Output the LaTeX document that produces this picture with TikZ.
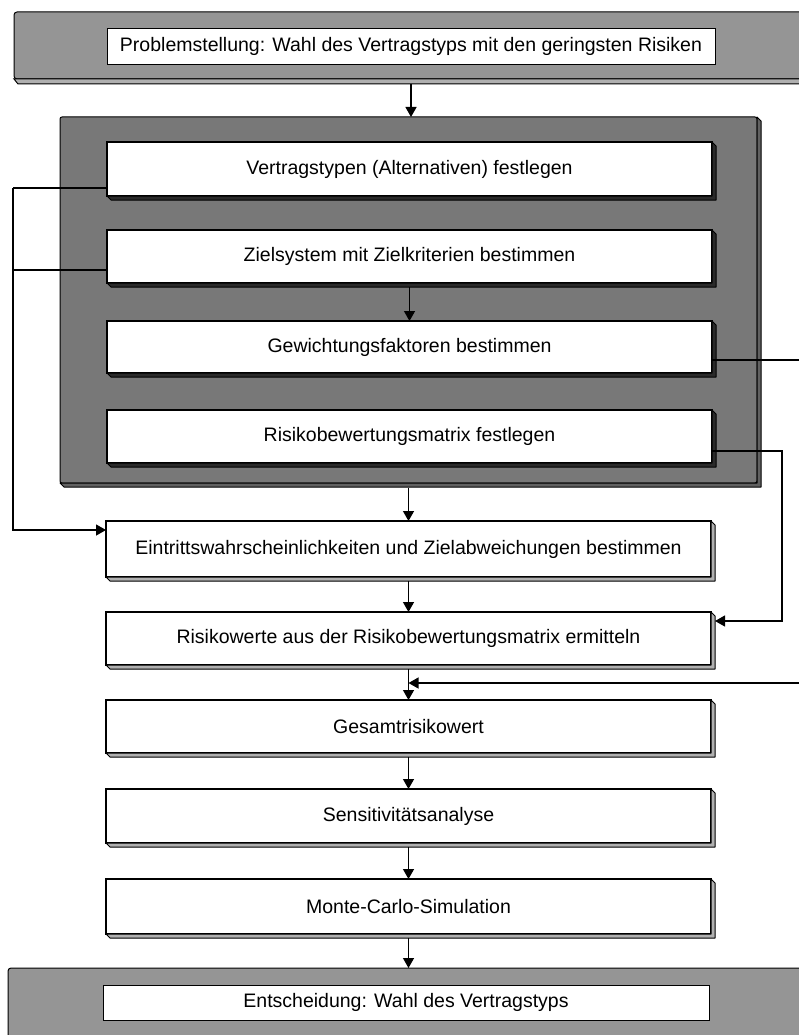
\documentclass[tikz,border=0pt]{standalone}
\usepackage{fontspec}
\setmainfont{Liberation Sans}
\usetikzlibrary{arrows.meta}
\definecolor{bannergray}{HTML}{959595}
\definecolor{groupgray}{HTML}{787878}
\definecolor{lightstrip}{HTML}{B0B0B0}
\definecolor{darkstrip}{HTML}{2A2A2A}
\newcommand\extrude[3]{\filldraw[fill=#2, line width=#3, line join=round] (#1.north east) -- ([shift={(4,4)}]#1.north east) -- ([shift={(4,4)}]#1.south east) -- ([shift={(4,4)}]#1.south west) -- (#1.south west) -- (#1.south east) -- cycle;}
\begin{document}
\begin{tikzpicture}[x=1pt,y=-1pt,
  box/.style={draw=black, line width=1.1pt, fill=white, minimum width=605pt, inner sep=0pt, outer sep=0pt, font=\fontsize{19.5}{22}\selectfont},
  flatbox/.style={draw=black, line width=0.8pt, fill=white, inner sep=0pt, outer sep=0pt, font=\fontsize{19.5}{22}\selectfont},
  bannerbg/.style={draw=black, line width=1pt, fill=bannergray, rounded corners=3pt, inner sep=0pt, outer sep=0pt},
  groupbg/.style={draw=black, line width=1pt, fill=groupgray, rounded corners=2pt, inner sep=0pt, outer sep=0pt},
  arr/.style={line width=1.3pt, -{Triangle[length=10pt,width=11pt]}},
  conn/.style={line width=1.3pt}]
\clip (0,0) rectangle (799,1035);
\fill[white] (0,0) rectangle (799,1035);
% top banner
\node[bannerbg, anchor=north west, minimum width=816pt, minimum height=67pt] (tb) at (14,12) {};
\filldraw[fill=lightstrip, line width=1pt] (tb.south west) -- ([shift={(4,5)}]tb.south west) -- ([shift={(4,5)}]tb.south east) -- (tb.south east) -- cycle;
\node[flatbox, minimum width=608pt, minimum height=36pt] (p) at (411,46) {Problemstellung: Wahl des Vertragstyps mit den geringsten Risiken};
% group
\node[groupbg, anchor=north west, minimum width=697pt, minimum height=366pt] (grp) at (60,117) {};
\extrude{grp}{black!62}{1pt}
\node[box, minimum height=54pt] (v) at (409.5,169) {Vertragstypen (Alternativen) festlegen};
\node[box, minimum height=53pt] (z) at (409.5,256.5) {Zielsystem mit Zielkriterien bestimmen};
\node[box, minimum height=52pt] (w) at (409.5,347) {Gewichtungsfaktoren bestimmen};
\node[box, minimum height=53pt] (r) at (409.5,436.5) {Risikobewertungsmatrix festlegen};
\foreach \n in {v,z,w,r} {\extrude{\n}{darkstrip}{1pt}}
% lower boxes
\node[box, minimum height=56pt] (e) at (408.5,549) {Eintrittswahrscheinlichkeiten und Zielabweichungen bestimmen};
\node[box, minimum height=53pt] (rw) at (408.5,638.5) {Risikowerte aus der Risikobewertungsmatrix ermitteln};
\node[box, minimum height=53pt] (g) at (408.5,726.5) {Gesamtrisikowert};
\node[box, minimum height=54pt] (s) at (408.5,816) {Sensitivitätsanalyse};
\node[box, minimum height=55pt] (m) at (408.5,906.5) {Monte-Carlo-Simulation};
\foreach \n in {e,rw,g,s,m} {\extrude{\n}{lightstrip}{1pt}}
% bottom banner
\node[bannerbg, anchor=north west, minimum width=830pt, minimum height=100pt] (bb) at (8,968) {};
\node[flatbox, minimum width=606pt, minimum height=35pt] (d) at (406,1002.5) {Entscheidung: Wahl des Vertragstyps};
% vertical arrows
\draw[arr] ([yshift=-5pt]p.south |- tb.south) -- (p.south |- grp.north);
\draw[arr] ([yshift=-4pt]z.south) -- (w.north);
\draw[arr] ([yshift=-5pt]e.north |- grp.south) -- (e.north);
\draw[arr] ([yshift=-4pt]e.south) -- (rw.north);
\draw[arr] ([yshift=-4pt]rw.south) -- (g.north);
\draw[arr] ([yshift=-4pt]g.south) -- (s.north);
\draw[arr] ([yshift=-4pt]s.south) -- (m.north);
\draw[arr] ([yshift=-4pt]m.south) -- (m.south |- bb.north);
% left connectors
\coordinate (lft) at (13,188);
\coordinate (zl) at ([yshift=13pt]z.south west);
\draw[conn] ([yshift=8pt]v.south west) -- (lft);
\draw[conn] (zl) -- (lft |- zl);
\draw[arr] (lft) |- ([yshift=-9pt]e.north west);
% right connectors
\coordinate (rx) at (812,0);
\coordinate (rx2) at (782,0);
\coordinate (wr) at ([yshift=13pt]w.south east);
\coordinate (gin) at ([yshift=17pt]g.north);
\draw[arr] (wr) -| (rx |- gin) -- (gin);
\coordinate (rr) at ([yshift=12pt]r.south east);
\coordinate (rwin) at ([xshift=4pt,yshift=-9pt]rw.north east);
\draw[arr] (rr) -| (rx2 |- rwin) -- (rwin);
\end{tikzpicture}
\end{document}
